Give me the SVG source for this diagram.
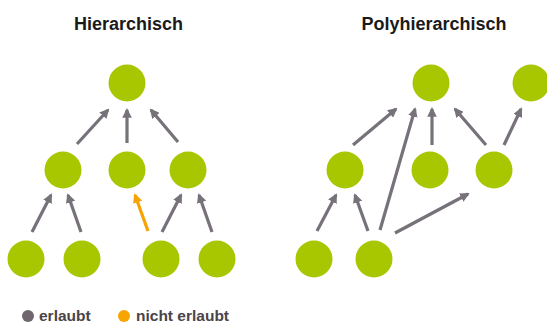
<svg xmlns="http://www.w3.org/2000/svg" width="547" height="324" viewBox="0 0 547 324">
<style>
.node{fill:#a8c700}
.title{font-family:"Liberation Sans",Arial,sans-serif;font-weight:bold;font-size:18px;fill:#1a1a1a;text-anchor:middle}
.leg{font-family:"Liberation Sans",Arial,sans-serif;font-weight:bold;font-size:15.5px;fill:#4a4448}
.e{stroke:#77717a;stroke-width:3.2;fill:none;marker-end:url(#ag)}
.bad{stroke:#f5a300;stroke-width:3.2;fill:none;marker-end:url(#ao)}
</style>
<defs>
<marker id="ag" viewBox="0 0 10 10" refX="8" refY="5" markerWidth="3" markerHeight="3" orient="auto" markerUnits="strokeWidth"><path d="M0,0 L10,5 L0,10 Z" fill="#77717a"/></marker>
<marker id="ao" viewBox="0 0 10 10" refX="8" refY="5" markerWidth="3" markerHeight="3" orient="auto" markerUnits="strokeWidth"><path d="M0,0 L10,5 L0,10 Z" fill="#f5a300"/></marker>
</defs>
<rect width="547" height="324" fill="#fff"/>
<text class="title" x="128.5" y="30">Hierarchisch</text>
<text class="title" x="434" y="30">Polyhierarchisch</text>
<g id="connectors">
<line class="e" x1="77" y1="144" x2="108" y2="110"/>
<line class="e" x1="127" y1="143" x2="127" y2="110"/>
<line class="e" x1="178" y1="142" x2="151" y2="110"/>
<line class="e" x1="32" y1="232" x2="51" y2="195"/>
<line class="e" x1="81" y1="232" x2="68" y2="195"/>
<line class="bad" x1="148" y1="231" x2="135" y2="195"/>
<line class="e" x1="162" y1="232" x2="181" y2="195"/>
<line class="e" x1="212" y1="232" x2="199" y2="195"/>
<line class="e" x1="353" y1="145" x2="396" y2="109"/>
<line class="e" x1="380" y1="230" x2="415" y2="109"/>
<line class="e" x1="432" y1="145" x2="432" y2="109"/>
<line class="e" x1="486" y1="145" x2="455" y2="109"/>
<line class="e" x1="504" y1="145" x2="521" y2="109"/>
<line class="e" x1="317" y1="231" x2="336" y2="195"/>
<line class="e" x1="368" y1="231" x2="355" y2="195"/>
<line class="e" x1="395" y1="233" x2="468" y2="194"/>
</g>
<g id="h-top"><circle class="node" cx="127" cy="83" r="18.5"/></g>
<g id="h-m1"><circle class="node" cx="63" cy="170" r="18.5"/></g>
<g id="h-m2"><circle class="node" cx="127" cy="170" r="18.5"/></g>
<g id="h-m3"><circle class="node" cx="188" cy="170" r="18.5"/></g>
<g id="h-b1"><circle class="node" cx="26" cy="259" r="18.5"/></g>
<g id="h-b2"><circle class="node" cx="82" cy="259" r="18.5"/></g>
<g id="h-b3"><circle class="node" cx="161" cy="259" r="18.5"/></g>
<g id="h-b4"><circle class="node" cx="217" cy="259" r="18.5"/></g>
<g id="p-top1"><circle class="node" cx="431" cy="83" r="18.5"/></g>
<g id="p-top2"><circle class="node" cx="531" cy="83" r="18.5"/></g>
<g id="p-m1"><circle class="node" cx="345" cy="170" r="18.5"/></g>
<g id="p-m2"><circle class="node" cx="430" cy="170" r="18.5"/></g>
<g id="p-m3"><circle class="node" cx="494" cy="170" r="18.5"/></g>
<g id="p-b1"><circle class="node" cx="314" cy="259" r="18.5"/></g>
<g id="p-b2"><circle class="node" cx="374" cy="259" r="18.5"/></g>
<g id="legend">
<circle cx="28" cy="316" r="6" fill="#6f676d"/>
<text class="leg" x="39" y="320.5">erlaubt</text>
<circle cx="124" cy="316" r="6" fill="#f7a500"/>
<text class="leg" x="136" y="320.5">nicht erlaubt</text>
</g>
</svg>
